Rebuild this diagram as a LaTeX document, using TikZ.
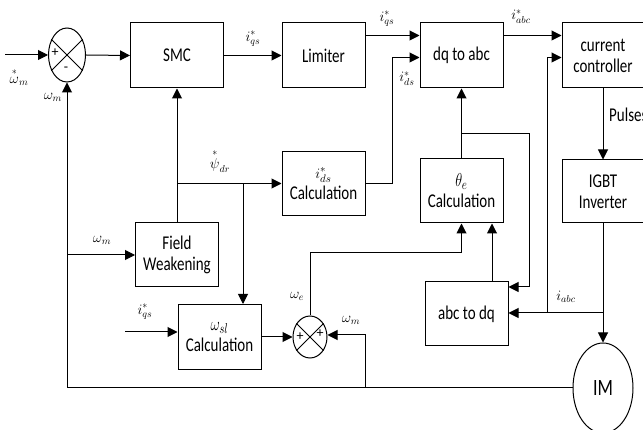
\documentclass[tikz,border=0pt]{standalone}
\usepackage{fontspec}
\setmainfont{Carlito}
\usepackage{amsmath}
\usepackage{graphicx}
\newcommand{\tl}[1]{\scalebox{1}[1.3]{#1}}
\usetikzlibrary{arrows.meta,shapes.geometric,calc}
\begin{document}
\begin{tikzpicture}[x=1pt,y=-1pt,
 blk/.style={draw,line width=1pt,align=center,font=\fontsize{15}{21}\selectfont,inner sep=1pt},
 arr/.style={line width=1pt,-{Triangle[length=10pt,width=10pt]}},
 ln/.style={line width=1pt},
 lbl/.style={font=\fontsize{14}{16}\selectfont,inner sep=1pt},
 sumj/.style={draw,line width=1pt,ellipse,inner sep=0pt}]
\useasboundingbox (0,0) rectangle (643,430);
% blocks
\node[blk,minimum width=93pt,minimum height=65pt] (smc) at (177,55.5) {\tl{SMC}};
\node[blk,minimum width=83pt,minimum height=65pt] (lim) at (323.5,55.5) {\tl{Limiter}};
\node[blk,minimum width=83pt,minimum height=65pt] (dq) at (461.5,55.5) {\tl{dq to abc}};
\node[blk,minimum width=82pt,minimum height=65pt] (cc) at (603,55.5) {\tl{current}\\\tl{controller}};
\node[blk,minimum width=83pt,minimum height=64pt] (ids) at (323.5,183.5) {$i^{*}_{ds}$\\\tl{Calculation}};
\node[blk,minimum width=83pt,minimum height=64pt] (th) at (461.5,191) {\tl{$\theta_{e}$}\\\tl{Calculation}};
\node[blk,minimum width=82pt,minimum height=63pt] (igbt) at (603,191.5) {\tl{IGBT}\\\tl{Inverter}};
\node[blk,minimum width=83pt,minimum height=64pt] (fw) at (177,255) {\tl{Field}\\\tl{Weakening}};
\node[blk,minimum width=83pt,minimum height=65pt] (wsl) at (219.5,337) {\tl{$\omega_{sl}$}\\\tl{Calculation}};
\node[blk,minimum width=83pt,minimum height=64pt] (abc) at (466.5,314) {\tl{abc to dq}};
\node[blk,ellipse,minimum width=60pt,minimum height=90pt,font=\fontsize{18}{20}\selectfont] (im) at (603,388) {\tl{IM}};
% summing junctions
\node[sumj,minimum width=37pt,minimum height=54pt] (s1) at (67,55) {};
\draw[ln] (s1.45) -- (s1.225) (s1.135) -- (s1.315);
\node[lbl] (s1p) at (55,53) {+};
\node[lbl] (s1m) at (66,69) {-};
\node[sumj,minimum width=34pt,minimum height=42pt] (s2) at (310,337) {};
\draw[ln] (s2.45) -- (s2.225) (s2.135) -- (s2.315);
\node[lbl] (s2p1) at (300,337) {+};
\node[lbl] (s2p2) at (320,334) {+};
% coordinates
\coordinate (in) at (5,55);
\coordinate (fbc) at (67,388);
\coordinate (fwj) at (67,255);
\coordinate (psij) at (177,183.5);
\coordinate (psib) at (243,183.5);
\coordinate (iqin) at (125,332);
\coordinate (wmj) at (365,388);
\coordinate (iaj) at (547,313);
\coordinate (imj) at (603,313);
\coordinate (thj) at (461.5,134);
\coordinate (thr) at (529,134);
\coordinate (wec) at (461.5,253);
% connectors
\draw[arr] (in) -- (s1.west);
\draw[arr] (s1.east) -- (smc.west);
\draw[arr] (smc.east) -- (lim.west);
\draw[arr] ([yshift=20pt]lim.east) -- ([yshift=20pt]dq.west);
\draw[arr] ([yshift=20pt]dq.east) -- ([yshift=20pt]cc.west);
\draw[arr] (ids.east) -- ++(27,0) |- ([yshift=-2pt]dq.west);
\draw[arr] (iaj) |- ([yshift=-2pt]cc.west);
\draw[arr] (cc.south) -- (igbt.north);
\draw[arr] (igbt.south) -- (im.north);
\draw[arr] (imj) -- (abc.east |- imj);
\draw[arr] (th.north) -- (dq.south);
\draw[arr] (thj) -- (thr) |- ([yshift=27pt]abc.east);
\draw[arr] ([xshift=25.5pt]abc.north) -- ([xshift=25.5pt]abc.north |- th.south);
\draw[arr] (s2.north) |- (wec) -- (th.south);
\draw[arr] (fw.north) -- (smc.south);
\draw[arr] (psij) -- (ids.west);
\draw[arr] (psib) -- (psib |- wsl.north);
\draw[arr] (iqin) -- (wsl.west |- iqin);
\draw[arr] (wsl.east) -- (s2.west);
\draw[arr] (im.west) -- (fbc) -- (s1.south);
\draw[arr] (fwj) -- (fw.west);
\draw[arr] (wmj) |- ([yshift=2pt]s2.east);
% labels
\node[lbl] (l1) at (19,77) {$\overset{*}{\omega}_{m}$};
\node[lbl] (l2) at (53,97) {$\omega_{m}$};
\node[lbl] (l3) at (253,39) {$i^{*}_{qs}$};
\node[lbl] (l4) at (387,19) {$i^{*}_{qs}$};
\node[lbl] (l5) at (407,79) {$i^{*}_{ds}$};
\node[lbl] (l6) at (521,17) {$i^{*}_{abc}$};
\node[lbl] (l7) at (220,161) {$\overset{*}{\psi}_{dr}$};
\node[lbl] (l8) at (102,240) {$\omega_{m}$};
\node[lbl] (l9) at (145,312) {$i^{*}_{qs}$};
\node[lbl] (l10) at (297,296) {$\omega_{e}$};
\node[lbl] (l11) at (351,320) {$\omega_{m}$};
\node[lbl] (l12) at (566,297) {$i_{abc}$};
\node[lbl,anchor=west,font=\fontsize{15}{17}\selectfont] (l13) at (608,115) {\tl{Pulses}};
\end{tikzpicture}
\end{document}
